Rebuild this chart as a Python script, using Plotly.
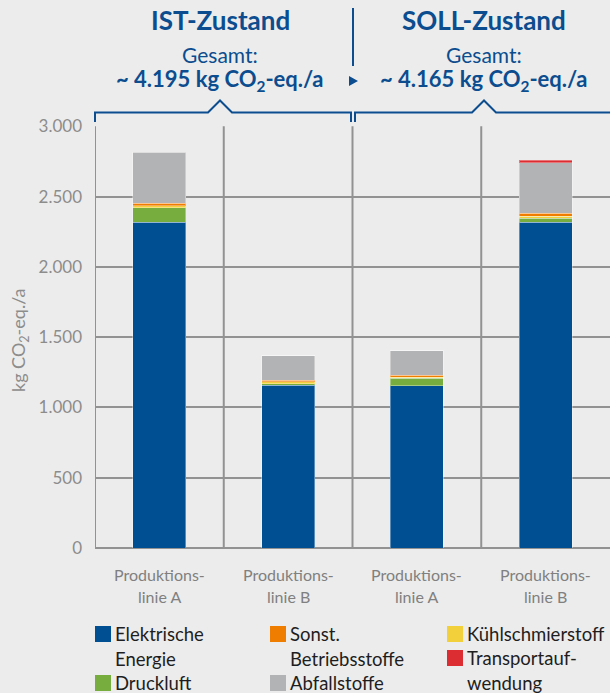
import plotly.graph_objects as go

# ---------------- data ----------------
categories = ["Produktions-\nlinie A", "Produktions-\nlinie B", "Produktions-\nlinie A", "Produktions-\nlinie B"]
series_names = ["Elektrische Energie", "Druckluft", "Kühlschmierstoff", "Sonst. Betriebsstoffe", "Abfallstoffe", "Transportaufwendung"]
elektrische_energie = [2319, 1158, 1153, 2319]
druckluft = [100, 12, 53, 28]
kuehlschmierstoff = [14, 12, 9, 14]
sonst_betriebsstoffe = [21, 12, 14, 19]
abfallstoffe = [363, 173, 175, 362]
transportaufwendung = [0, 0, 0, 15]
y_ticks = [0, 500, 1000, 1500, 2000, 2500, 3000]
group_titles = ["IST-Zustand", "SOLL-Zustand"]
group_totals = ["~ 4.195 kg CO<sub>2</sub>-eq./a", "~ 4.165 kg CO<sub>2</sub>-eq./a"]

colors = ["#004f93", "#76ad3e", "#f2d03b", "#ef7d00", "#b2b3b4", "#dc2d32"]
values = [elektrische_energie, druckluft, kuehlschmierstoff, sonst_betriebsstoffe, abfallstoffe, transportaufwendung]

BLUE = "#0b4d8f"
GRID = "#929292"
BG = "#ececec"
FONT = "Lato"

W, H = 610, 693
L, R, T, B = 95, 610, 126, 548


def xp(px):
    return (px - L) / (R - L)


def yp(py):
    return (B - py) / (B - T)


x_idx = list(range(len(categories)))

fig = go.Figure()
for name, vals, col in zip(series_names, values, colors):
    fig.add_trace(go.Bar(
        x=x_idx, y=vals, name=name, width=0.41,
        marker=dict(color=col, line=dict(color="rgba(255,255,255,0.35)", width=1)),
        showlegend=False,
    ))

shapes = []
# vertical category separators
for b in [-0.5, 0.5, 1.5, 2.5]:
    shapes.append(dict(type="line", xref="x", yref="y", x0=b, x1=b, y0=0, y1=3000,
                       line=dict(color=GRID, width=2), layer="below"))

annotations = []
# x category labels (two lines each)
for i, c in enumerate(categories):
    l1, l2 = c.split("\n")
    for txt, py in [(l1, 574), (l2, 596)]:
        annotations.append(dict(x=i, xref="x", y=yp(py), yref="paper", text=txt, showarrow=False,
                                xanchor="center", yanchor="middle",
                                font=dict(family=FONT, size=16, color="#808080")))

# y axis title
annotations.append(dict(x=xp(19), xref="paper", y=yp(340), yref="paper",
                        text="kg CO<sub>2</sub>-eq./a", textangle=-90, showarrow=False,
                        xanchor="center", yanchor="middle",
                        font=dict(family=FONT, size=18, color="#8c8c8c")))

# header texts
centers = [220, 484]
for cx, title, total in zip(centers, group_titles, group_totals):
    annotations.append(dict(x=xp(cx), xref="paper", y=yp(20), yref="paper", text="<b>" + title + "</b>",
                            showarrow=False, xanchor="center", yanchor="middle",
                            font=dict(family=FONT, size=26, color=BLUE)))
    annotations.append(dict(x=xp(cx), xref="paper", y=yp(54), yref="paper", text="Gesamt:",
                            showarrow=False, xanchor="center", yanchor="middle",
                            font=dict(family=FONT, size=21, color=BLUE)))
    annotations.append(dict(x=xp(cx), xref="paper", y=yp(80), yref="paper", text="<b>" + total + "</b>",
                            showarrow=False, xanchor="center", yanchor="middle",
                            font=dict(family=FONT, size=22, color=BLUE)))

# divider line and arrow
shapes.append(dict(type="line", xref="paper", yref="paper", x0=xp(353), x1=xp(353), y0=yp(8), y1=yp(66),
                   line=dict(color=BLUE, width=2)))
shapes.append(dict(type="path", xref="paper", yref="paper",
                   path=f"M {xp(349)} {yp(76)} L {xp(358)} {yp(81)} L {xp(349)} {yp(86)} Z",
                   fillcolor=BLUE, line=dict(color=BLUE, width=0)))

# brackets
def bracket(x0, x1, peak, left_down=True, right_down=True):
    by, py_, ty = 112.5, 100.5, 122
    pts = []
    if left_down:
        pts.append((x0, ty))
    pts += [(x0, by), (peak - 12, by), (peak, py_), (peak + 12, by), (x1, by)]
    if right_down:
        pts.append((x1, ty))
    path = "M " + " L ".join(f"{xp(a)} {yp(b)}" for a, b in pts)
    return dict(type="path", xref="paper", yref="paper", path=path,
                line=dict(color=BLUE, width=2))

shapes.append(bracket(95, 351, 220))
shapes.append(bracket(355, 640, 484, right_down=False))

# legend (manual layout)
legend_items = [
    (0, ["Elektrische", "Energie"], 95, 634),
    (1, ["Druckluft"], 95, 683),
    (3, ["Sonst.", "Betriebsstoffe"], 270, 634),
    (4, ["Abfallstoffe"], 270, 683),
    (2, ["Kühlschmierstoff"], 447, 634),
    (5, ["Transportauf-", "wendung"], 447, 658),
]
for idx, lines, lx, ly in legend_items:
    shapes.append(dict(type="rect", xref="paper", yref="paper",
                       x0=xp(lx), x1=xp(lx + 16), y0=yp(ly - 8), y1=yp(ly + 8),
                       fillcolor=colors[idx], line=dict(width=0)))
    for k, txt in enumerate(lines):
        annotations.append(dict(x=xp(lx + 18), xref="paper", y=yp(ly + 24.5 * k), yref="paper",
                                text=txt, showarrow=False, xanchor="left", yanchor="middle",
                                font=dict(family=FONT, size=18.5, color="#1e1e1e")))

fig.update_layout(
    barmode="stack",
    width=W, height=H,
    margin=dict(l=L, r=W - R, t=T, b=H - B, pad=0),
    paper_bgcolor=BG, plot_bgcolor=BG,
    separators=",.",
    font=dict(family=FONT),
    shapes=shapes,
    annotations=annotations,
    showlegend=False,
    xaxis=dict(range=[-0.5, 3.5], showticklabels=False, showgrid=False, zeroline=False,
               showline=False, fixedrange=True),
    yaxis=dict(range=[0, 3002], tickvals=y_ticks, tickformat=",d", showgrid=True,
               gridcolor=GRID, gridwidth=2, zeroline=True, zerolinecolor=GRID, zerolinewidth=2,
               showline=False, ticks="", ticklabelstandoff=12,
               tickfont=dict(family=FONT, size=17, color="#8c8c8c"), fixedrange=True),
)

fig.write_html("out.html")
